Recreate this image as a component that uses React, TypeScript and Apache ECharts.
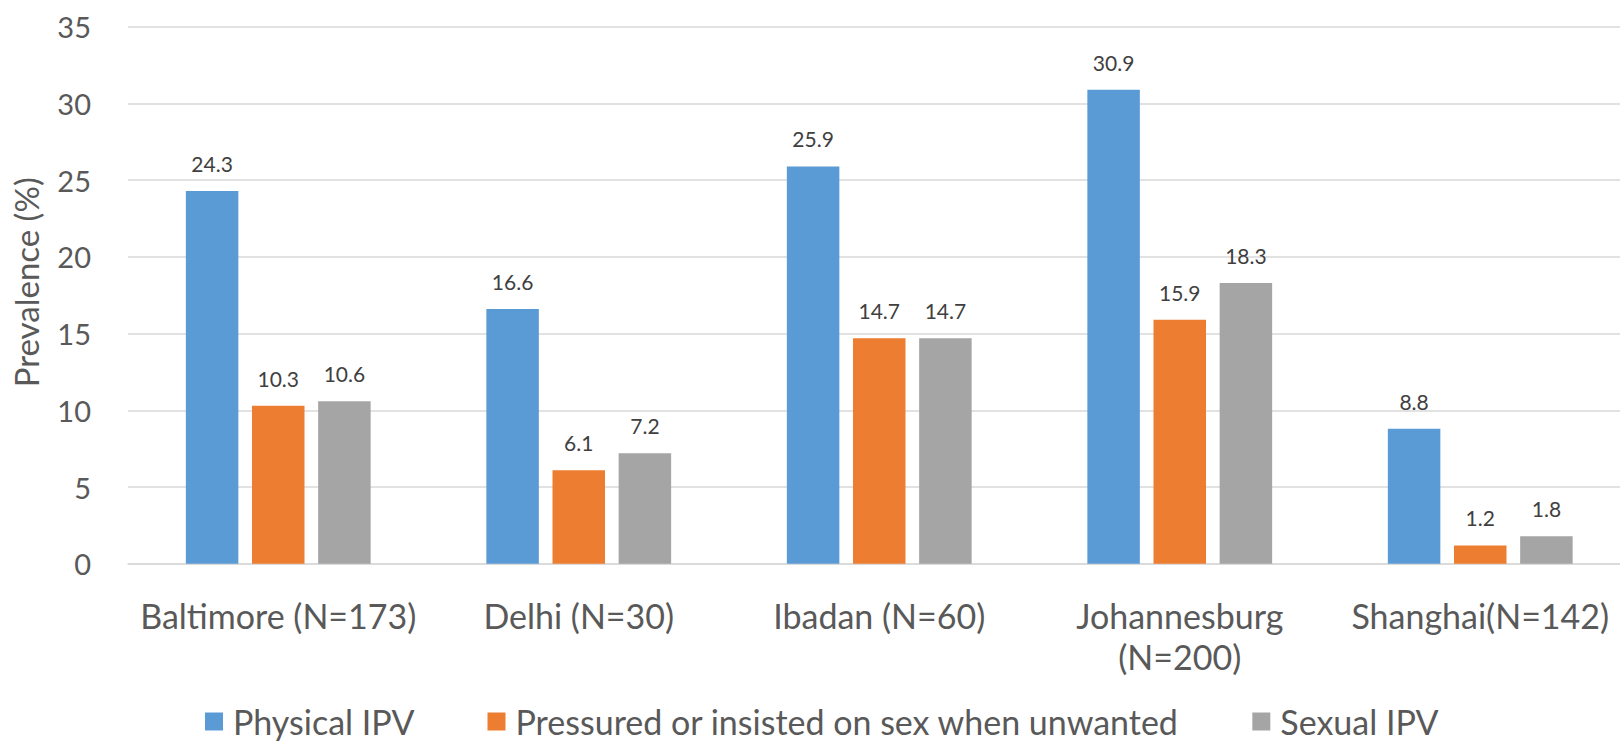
import React, { useEffect, useRef } from "react";
import * as echarts from "echarts";

// Study sites with sample sizes
const categories = [
  "Baltimore (N=173)",
  "Delhi (N=30)",
  "Ibadan (N=60)",
  "Johannesburg\n(N=200)",
  "Shanghai(N=142)",
];

// Prevalence (%) per site
const physicalIPV = [24.3, 16.6, 25.9, 30.9, 8.8];
const pressuredSex = [10.3, 6.1, 14.7, 15.9, 1.2];
const sexualIPV = [10.6, 7.2, 14.7, 18.3, 1.8];

const seriesNames = [
  "Physical IPV",
  "Pressured or insisted on sex when unwanted",
  "Sexual IPV",
];

// Value axis range
const yMin = 0;
const yMax = 35;
const yStep = 5;

const FONT = "Lato, 'Open Sans', sans-serif";

export default function App() {
  const ref = useRef<HTMLDivElement>(null);

  useEffect(() => {
    if (!ref.current) return;
    const chart = echarts.init(ref.current, undefined, { renderer: "svg" });

    const label = {
      show: true,
      position: "top" as const,
      distance: 17,
      fontSize: 21,
      fontFamily: FONT,
      color: "#404040",
    };

    const mk = (name: string, data: number[], color: string) => ({
      name,
      type: "bar" as const,
      data,
      barWidth: 52.5,
      barGap: "26%",
      itemStyle: { color },
      label,
    });

    chart.setOption({
      animation: false,
      backgroundColor: "#ffffff",
      textStyle: { fontFamily: FONT },
      grid: {
        left: 128,
        top: 26.8,
        width: 1502.5,
        height: 537,
        containLabel: false,
        outerBoundsMode: "none",
      },
      legend: {
        data: seriesNames,
        left: 205,
        top: 701,
        padding: 0,
        icon: "rect",
        itemWidth: 18,
        itemHeight: 18,
        itemGap: 73,
        textStyle: {
          fontSize: 34,
          lineHeight: 41,
          color: "#595959",
          fontFamily: FONT,
          padding: [0, 0, 0, 5],
        },
      },
      xAxis: {
        type: "category",
        data: categories,
        axisLine: { show: true, lineStyle: { color: "#D9D9D9", width: 1.5 } },
        axisTick: { show: false },
        axisLabel: {
          interval: 0,
          fontSize: 34,
          lineHeight: 41,
          margin: 31,
          color: "#595959",
          fontFamily: FONT,
        },
      },
      yAxis: {
        type: "value",
        min: yMin,
        max: yMax,
        interval: yStep,
        name: "Prevalence (%)",
        nameLocation: "middle",
        nameRotate: 90,
        nameGap: 86,
        nameTextStyle: {
          fontSize: 33,
          color: "#595959",
          fontFamily: FONT,
          padding: [0, 0, 0, 26],
        },
        axisLine: { show: false },
        axisTick: { show: false },
        splitLine: { lineStyle: { color: "#D9D9D9", width: 1.5 } },
        axisLabel: {
          fontSize: 29,
          margin: 37,
          color: "#595959",
          fontFamily: FONT,
        },
      },
      series: [
        mk(seriesNames[0], physicalIPV, "#5B9BD5"),
        mk(seriesNames[1], pressuredSex, "#ED7D31"),
        mk(seriesNames[2], sexualIPV, "#A5A5A5"),
      ],
    });

    return () => chart.dispose();
  }, []);

  return (
    <div
      ref={ref}
      style={{ position: "absolute", left: 0, top: 0, width: 1620, height: 743 }}
    />
  );
}
